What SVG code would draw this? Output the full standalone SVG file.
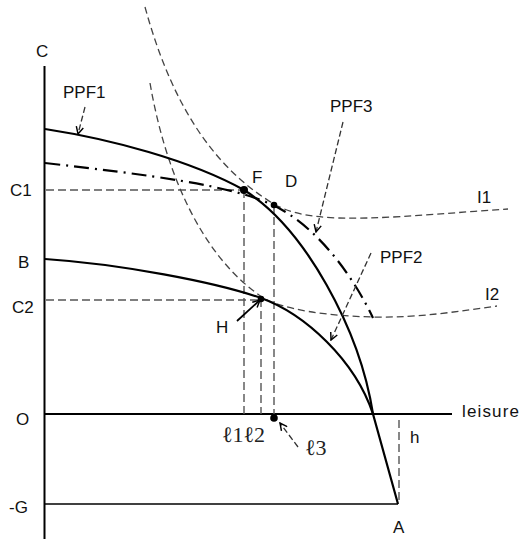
<svg xmlns="http://www.w3.org/2000/svg" width="525" height="539" viewBox="0 0 525 539">
<style>
.t{font-family:"Liberation Sans",Arial,sans-serif;font-size:17px;fill:#111}
.m{font-family:"Liberation Serif","DejaVu Serif",serif;font-size:22px;fill:#222}
.ax{stroke:#000;stroke-width:2;fill:none}
.sol{stroke:#000;stroke-width:2.2;fill:none}
.dd{stroke:#000;stroke-width:2.2;fill:none;stroke-dasharray:15 6 2 6}
.ic{stroke:#444;stroke-width:1.3;fill:none;stroke-dasharray:7 4}
.gd{stroke:#555;stroke-width:1.4;fill:none;stroke-dasharray:8 4}
.ar{stroke:#333;stroke-width:1.3;fill:none;stroke-dasharray:6 3}
.dot{fill:#000}
</style>
<defs>
<marker id="v" viewBox="0 0 10 10" refX="9" refY="5" markerWidth="9" markerHeight="9" markerUnits="userSpaceOnUse" orient="auto">
<path d="M1,1 L9,5 L1,9" fill="none" stroke="#000" stroke-width="1.6"/>
</marker>
</defs>
<g id="axes">
<line class="ax" x1="44.5" y1="66" x2="44.5" y2="539"/>
<line class="ax" x1="44" y1="414" x2="452" y2="414"/>
<line stroke="#000" stroke-width="1.5" x1="44" y1="504" x2="398" y2="504"/>
</g>
<g id="guides">
<line class="gd" x1="46" y1="190" x2="244" y2="190"/>
<line class="gd" x1="46" y1="300" x2="261" y2="300"/>
<line class="gd" x1="244" y1="190" x2="244" y2="414"/>
<line class="gd" x1="261" y1="299" x2="261" y2="414"/>
<line class="gd" x1="274" y1="205" x2="274" y2="414"/>
<line class="gd" x1="399" y1="420" x2="399" y2="504"/>
</g>
<g id="I1"><path class="ic" d="M145,7 C165,80 200,160 274,204 C296,217 330,219 367,218 C410,217 460,212 508,209"/></g>
<g id="I2"><path class="ic" d="M150,83 C165,170 200,255 262,297 C282,310 330,316 373,317 C420,318 460,311 497,306"/></g>
<g id="PPF1"><path class="sol" d="M45,129 C110,139 190,160 244,190 C305,228 360,330 373,414 L398,504"/></g>
<g id="PPF2"><path class="sol" d="M45,259 C120,264 215,282 261,298 C305,314 355,360 373,414"/></g>
<g id="PPF3"><path class="dd" d="M45,163 C150,175 230,185 273,205 C320,228 355,280 373,318"/></g>
<g id="connectors">
<line class="ar" x1="85" y1="107" x2="78" y2="134" marker-end="url(#v)"/>
<line class="ar" x1="343" y1="122" x2="316" y2="232" marker-end="url(#v)"/>
<line class="ar" x1="371" y1="253" x2="331" y2="340" marker-end="url(#v)"/>
<line class="ar" x1="298" y1="447" x2="280" y2="423" marker-end="url(#v)"/>
<line stroke="#000" stroke-width="1.8" x1="237" y1="321" x2="260" y2="300" marker-end="url(#v)"/>
</g>
<g id="points">
<circle class="dot" cx="244" cy="190" r="4"/>
<circle class="dot" cx="274" cy="205" r="3.3"/>
<circle class="dot" cx="261" cy="299" r="3.3"/>
<circle class="dot" cx="274" cy="418" r="3.8"/>
</g>
<g id="labels">
<text class="t" x="36" y="57">C</text>
<text class="t" x="63" y="98">PPF1</text>
<text class="t" x="10" y="196">C1</text>
<text class="t" x="18" y="268">B</text>
<text class="t" x="12" y="313">C2</text>
<text class="t" x="16" y="425">O</text>
<text class="t" x="9" y="513">-G</text>
<text class="t" x="393" y="533">A</text>
<text class="t" x="410" y="443">h</text>
<text class="t" x="462" y="417" textLength="57">leisure</text>
<text class="t" x="252" y="183">F</text>
<text class="t" x="285" y="187">D</text>
<text class="t" x="216" y="333">H</text>
<text class="t" x="330" y="112">PPF3</text>
<text class="t" x="477" y="203">I1</text>
<text class="t" x="380" y="263">PPF2</text>
<text class="t" x="485" y="300">I2</text>
<text class="m" x="222" y="442">ℓ1ℓ2</text>
<text class="m" x="305" y="455">ℓ3</text>
</g>
</svg>
